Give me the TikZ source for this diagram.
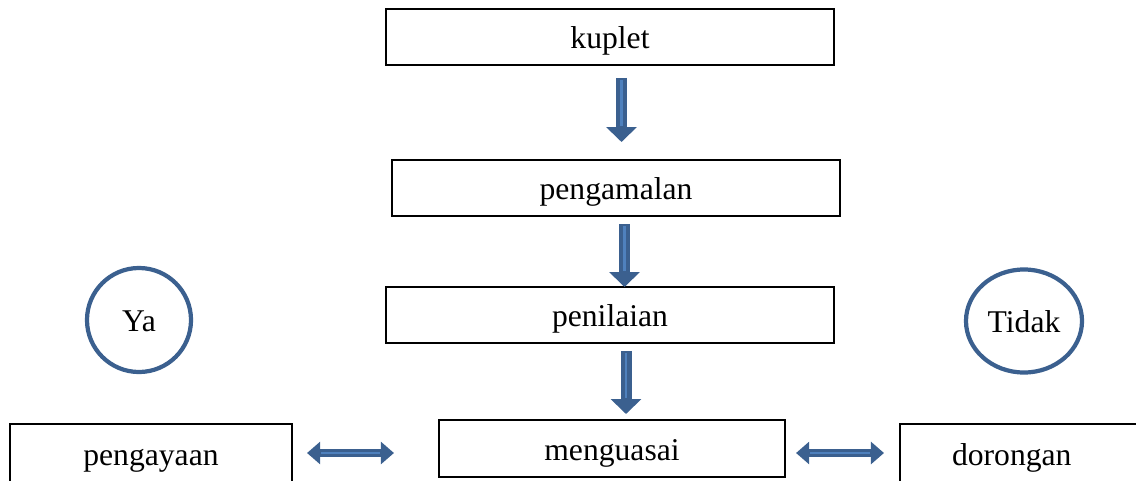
\documentclass[tikz,border=0pt]{standalone}
\usepackage{fontspec}
\setmainfont{Liberation Serif}
\usetikzlibrary{calc,arrows.meta,shapes.geometric}
\definecolor{dblue}{RGB}{59,96,143}
\definecolor{lblue}{RGB}{79,129,189}

\begin{document}
\begin{tikzpicture}[x=0.025cm,y=-0.025cm,
  font=\fontsize{22.5}{27}\selectfont,
  box/.style={draw,line width=1.4pt,minimum width=11.2cm,minimum height=1.4cm,text height=.68cm,text depth=.1cm},
  ring/.style={ellipse,draw=dblue,line width=3pt,inner sep=0pt,text height=.68cm,text depth=.1cm},
  flow/.style={draw=dblue,line width=.275cm,-{Triangle[length=.375cm,width=.75cm]},
    postaction={draw=lblue,line width=.07cm,-,shorten >=.4cm,shorten <=.06cm}},
  swap/.style={draw=dblue,line width=.2cm,{Triangle[length=.33cm,width=.55cm]}-{Triangle[length=.33cm,width=.55cm]},
    postaction={draw=lblue,line width=.06cm,-,shorten >=.36cm,shorten <=.36cm}}]
\useasboundingbox (0,0) rectangle (1136,480);
\clip (0,0) rectangle (1136,480);

\node[box] (kuplet) at (610,37) {kuplet};
\node[box] (pengamalan) at (616,188) {pengamalan};
\node[box] (penilaian) at (610,315) {penilaian};
\node[box,minimum width=8.65cm,minimum height=1.425cm] (menguasai) at (612,448.5) {menguasai};
\node[box,minimum width=7.05cm,minimum height=1.5cm] (pengayaan) at (151,454) {pengayaan};
\node[box,minimum width=0pt,minimum height=1.5cm,anchor=west,text width=8cm,align=left,inner xsep=1.3cm] (dorongan) at (899,454) {dorongan};

\node[ring,minimum width=2.6cm,minimum height=2.6cm] (ya) at (139,320) {Ya};
\node[ring,minimum width=2.9cm,minimum height=2.575cm] (tidak) at (1024,321) {Tidak};

% aliran ke bawah
\draw[flow] ($(kuplet.south)+(11.5,12)$) -- ($(pengamalan.north)+(5.5,-17)$);
\draw[flow] ($(pengamalan.south)+(8.5,7)$) -- ($(penilaian.north)+(14.5,1)$);
\draw[flow] ($(penilaian.south)+(16,7)$) -- ($(menguasai.north)+(14,-5)$);

% anak panah dua hala
\draw[swap] ($(pengayaan.east)+(14,-1)$) -- ($(menguasai.west |- pengayaan.east)+(-44,-1)$);
\draw[swap] ($(menguasai.east |- dorongan.west)+(10,-1)$) -- ($(dorongan.west)+(-15,-1)$);
\end{tikzpicture}
\end{document}
